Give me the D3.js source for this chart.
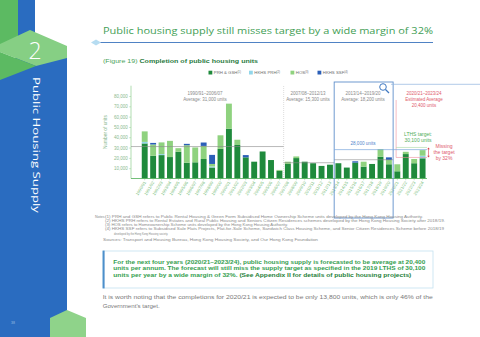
<!DOCTYPE html>
<html>
<head>
<meta charset="utf-8">
<script src="https://cdn.jsdelivr.net/npm/d3@7"></script>
<style>
  body { margin: 0; background: #fff; }
  svg { display: block; font-family: "Liberation Sans", Arial, sans-serif; }
</style>
</head>
<body>
<svg id="chart" width="480" height="337"></svg>
<script>
// completions per year, by programme
const years = ["1990/91","1991/92","1992/93","1993/94","1994/95","1995/96","1996/97","1997/98","1998/99","1999/00",
  "2000/01","2001/02","2002/03","2003/04","2004/05","2005/06","2006/07","2007/08","2008/09","2009/10",
  "2010/11","2011/12","2012/13","2013/14","2014/15","2015/16","2016/17","2017/18","2018/19","2019/20",
  "2020/21","2021/22","2022/23","2023/24"];
const prhGsh  = [34000,22000,22700,20800,25900,15300,15700,18900,10700,28700,48300,32500,20500,16300,26200,17900,7400,
  14100,19800,16300,14800,12200,13400,14800,10600,15400,11500,14100,21100,13800,7000,23700,14800,19600];
const hkhsPrh = [1500,0,1000,0,0,0,0,0,1000,0,0,0,0,0,0,0,0,
  0,0,0,0,0,0,0,0,0,0,0,0,0,0,0,0,2500];
const hos     = [10200,11000,11300,15700,3500,17000,14400,12700,2400,13200,24300,5100,0,0,0,0,900,
  2200,1600,0,0,0,0,0,0,0,4800,0,7400,4200,6800,2200,4100,5400];
const hkhsSsf = [0,1500,0,0,0,1300,0,3300,8800,0,0,0,2200,0,0,0,0,
  0,0,0,0,0,0,0,0,1300,0,0,0,2500,0,0,0,0];

const yTicks = [10000,20000,30000,40000,50000,60000,70000,80000];

const seriesKeys   = ["prh","hkhsPrh","hos","ssf"];
const seriesNames  = ["PRH & GSH","HKHS PRH","HOS","HKHS SSF"];
const seriesNotes  = ["(1)","(2)","(3)","(4)"];
const seriesColors = ["#1f8a3c","#92d6ea","#8fd27f","#2b5fb8"];

// period averages
const periodFirst = ["1990/91","2007/08","2013/14","2020/21"];
const periodLast  = ["2006/07","2012/13","2019/20","2023/24"];
const periodAvg   = [31000,15300,18200,20400];
const zoomTarget  = 28000;
const lthsTarget  = 30100;

const svg = d3.select("#chart");
const fmt = d3.format(",");

// ---- side band ----
const side = svg.append("g");
side.append("rect").attr("x",0).attr("y",58).attr("width",67).attr("height",279).attr("fill","#2a6cc0");
side.append("rect").attr("x",18).attr("y",0).attr("width",17).attr("height",60).attr("fill","#2a6cc0");
side.append("rect").attr("x",0).attr("y",0).attr("width",18).attr("height",44).attr("fill","#5cba62");
side.append("polygon").attr("points","0,44 30,30 67,46 67,58 36,66 0,52").attr("fill","#86cf84");
side.append("polygon").attr("points","0,52 36,66 0,80").attr("fill","#5cba62");
side.append("text").attr("x",35).attr("y",58.5).attr("text-anchor","middle")
  .attr("font-family","'Open Sans', sans-serif").attr("font-weight",300)
  .attr("font-size",23).attr("fill","#fff").text("2");
side.append("text").attr("transform","translate(33,77) rotate(90)")
  .attr("font-family","'Open Sans', sans-serif").attr("font-size",9.5)
  .attr("fill","#fff").attr("textLength",136).attr("lengthAdjust","spacingAndGlyphs")
  .text("Public Housing Supply");
side.append("polygon").attr("points","50,337 50,318 67,310 86,318 86,337").attr("fill","#8fd38a");
side.append("text").attr("x",11).attr("y",324).attr("font-size",3.5).attr("fill","#9dbbe0").text("38");

// ---- heading ----
svg.append("text").attr("x",103).attr("y",34)
  .attr("font-family","'Open Sans', sans-serif").attr("font-size",8.6).attr("fill","#3f9e55")
  .attr("textLength",330).attr("lengthAdjust","spacingAndGlyphs")
  .text("Public housing supply still misses target by a wide margin of 32%");
svg.append("line").attr("x1",95).attr("x2",433).attr("y1",42.5).attr("y2",42.5)
  .attr("stroke","#4f82c4").attr("stroke-width",1.2);
svg.append("polygon").attr("points","91,42.5 96,39.5 101,42.5 96,45.5").attr("fill","#b6dcf1");

const cap = svg.append("text").attr("x",103).attr("y",63).attr("font-size",5.6)
  .attr("textLength",155).attr("lengthAdjust","spacingAndGlyphs");
cap.append("tspan").attr("fill","#4aa35a").text("(Figure 19) ");
cap.append("tspan").attr("fill","#1f7a3c").attr("font-weight","bold").text("Completion of public housing units");

// ---- legend ----
const legendX = [208.5, 249, 290.5, 317.5];
seriesKeys.forEach((k, i) => {
  const g = svg.append("g").attr("transform", `translate(${legendX[i]},70.7)`);
  g.append("rect").attr("width",3.8).attr("height",3.8).attr("fill",seriesColors[i]);
  const t = g.append("text").attr("x",5.3).attr("y",3.5).attr("font-size",4.3).attr("fill","#6b6b6b");
  t.append("tspan").text(seriesNames[i]);
  t.append("tspan").attr("font-size",2.8).attr("dy",-1.4).text(seriesNotes[i]);
});

// ---- scales ----
const x = d3.scaleBand().domain(years).range([140.5, 426.8]).paddingInner(0.3).paddingOuter(0.15);
const y = d3.scaleLinear().domain([0, 90000]).range([178.5, 85.7]);
const gap = x.step() - x.bandwidth();
const leftEdge  = yr => x(yr) - gap / 2;
const rightEdge = yr => x(yr) + x.bandwidth() + gap / 2;

const rows = years.map((yr, i) => ({
  year: yr, prh: prhGsh[i], hkhsPrh: hkhsPrh[i], hos: hos[i], ssf: hkhsSsf[i]
}));
const stacked = d3.stack().keys(seriesKeys)(rows);

// y axis
const yAxis = svg.append("g").attr("transform","translate(131,0)")
  .call(d3.axisLeft(y).tickValues(yTicks).tickSize(1.8).tickPadding(1.5).tickFormat(fmt));
yAxis.select(".domain").remove();
yAxis.selectAll("line").attr("stroke","#8fcf8f").attr("stroke-width",0.5);
yAxis.selectAll("text").attr("font-size",4.5).attr("fill","#8bb88e").attr("font-family","'Liberation Sans', sans-serif");
svg.append("line").attr("x1",131).attr("x2",131).attr("y1",y(90000)).attr("y2",y(0))
  .attr("stroke","#8fcf8f").attr("stroke-width",0.7);
svg.append("text").attr("transform",`translate(107,${(y(0)+y(90000))/2}) rotate(-90)`)
  .attr("text-anchor","middle").attr("font-size",4.8).attr("fill","#8bb88e").text("Number of units");

// period separator
svg.append("line").attr("x1",rightEdge("2006/07")).attr("x2",rightEdge("2006/07"))
  .attr("y1",86).attr("y2",y(0)).attr("stroke","#bdbdbd").attr("stroke-width",0.5)
  .attr("stroke-dasharray","1,1");

// bars
svg.append("g").selectAll("g").data(stacked).join("g")
  .attr("fill", (d, i) => seriesColors[i])
  .selectAll("rect").data(d => d).join("rect")
  .attr("x", d => x(d.data.year))
  .attr("width", x.bandwidth())
  .attr("y", d => y(d[1]))
  .attr("height", d => y(d[0]) - y(d[1]));

// x axis
const xAxis = svg.append("g").attr("transform",`translate(0,${y(0)})`)
  .call(d3.axisBottom(x).tickSize(1.8).tickPadding(1));
xAxis.select(".domain").remove();
xAxis.selectAll("line").attr("stroke","#8fcf8f").attr("stroke-width",0.5);
xAxis.selectAll("text").attr("font-size",4.3).attr("fill","#7cc17e")
  .attr("text-anchor","end").attr("dy",0).attr("y",0)
  .attr("transform","translate(1.5,4) rotate(-58)");
svg.append("line").attr("x1",131).attr("x2",427).attr("y1",y(0)).attr("y2",y(0))
  .attr("stroke","#4fae57").attr("stroke-width",0.8);

// average lines and period labels
const periodColor = ["#8a8a8a","#8a8a8a","#8a8a8a","#e05a6c"];
periodFirst.forEach((first, i) => {
  const x0 = i === 0 ? 131 : leftEdge(first) + (i === 3 ? 3 : 0);
  const x1 = i === 3 ? 427 : rightEdge(periodLast[i]);
  svg.append("line").attr("x1",x0).attr("x2",x1).attr("y1",y(periodAvg[i])).attr("y2",y(periodAvg[i]))
    .attr("stroke", i === 3 ? "#ef8e9a" : "#8c8c8c").attr("stroke-width",0.6);
  const cx = [205, 308, 363, 424][i];
  const lines = i === 3
    ? [`${first}–${periodLast[i]}`, "Estimated Average", `${fmt(periodAvg[i])} units`]
    : [`${first}–${periodLast[i]}`, `Average: ${fmt(periodAvg[i])} units`];
  lines.forEach((s, j) => {
    svg.append("text").attr("x",cx).attr("y",95 + j * 6.2).attr("text-anchor","middle")
      .attr("font-size",4.5).attr("fill",periodColor[i]).text(s);
  });
});
// red leader down to the estimated average
const redX = leftEdge("2020/21") + 3;
svg.append("line").attr("x1",redX).attr("x2",redX).attr("y1",100).attr("y2",y(periodAvg[3]))
  .attr("stroke","#ef8e9a").attr("stroke-width",0.6);

// zoom box around 2013/14 – 2019/20
const bx0 = leftEdge("2013/14"), bx1 = rightEdge("2019/20");
svg.append("rect").attr("x",bx0).attr("y",82).attr("width",bx1 - bx0).attr("height",136)
  .attr("fill","none").attr("stroke","#5f8fcb").attr("stroke-width",0.9);
svg.append("line").attr("x1",391).attr("x2",480).attr("y1",84.3).attr("y2",84.3)
  .attr("stroke","#8fb3de").attr("stroke-width",0.7);
svg.append("circle").attr("cx",383).attr("cy",87).attr("r",3.3)
  .attr("fill","#fff").attr("stroke","#3f79c2").attr("stroke-width",1);
svg.append("line").attr("x1",385.5).attr("y1",89.5).attr("x2",389).attr("y2",93)
  .attr("stroke","#3f79c2").attr("stroke-width",1.2);

// 28,000 and LTHS target lines
svg.append("line").attr("x1",bx0).attr("x2",427).attr("y1",y(zoomTarget)).attr("y2",y(zoomTarget))
  .attr("stroke","#7aa6dc").attr("stroke-width",0.7);
svg.append("text").attr("x",363).attr("y",y(zoomTarget) - 4.5).attr("text-anchor","middle")
  .attr("font-size",4.6).attr("fill","#4f86cc").text(`${fmt(zoomTarget)} units`);
svg.append("line").attr("x1",redX).attr("x2",427).attr("y1",y(lthsTarget)).attr("y2",y(lthsTarget))
  .attr("stroke","#a9d8a6").attr("stroke-width",0.6);
["LTHS target:", `${fmt(lthsTarget)} units`].forEach((s, j) => {
  svg.append("text").attr("x",418).attr("y",135.5 + j * 6).attr("text-anchor","middle")
    .attr("font-size",5).attr("fill","#4fae57").text(s);
});
// gap arrow
const ax = 428.5;
svg.append("line").attr("x1",ax).attr("x2",ax).attr("y1",y(lthsTarget) + 1).attr("y2",y(periodAvg[3]) - 1)
  .attr("stroke","#d9414f").attr("stroke-width",0.6);
svg.append("polygon").attr("points",`${ax-1.3},${y(lthsTarget)+1.8} ${ax},${y(lthsTarget)} ${ax+1.3},${y(lthsTarget)+1.8}`).attr("fill","#d9414f");
svg.append("polygon").attr("points",`${ax-1.3},${y(periodAvg[3])-1.8} ${ax},${y(periodAvg[3])} ${ax+1.3},${y(periodAvg[3])-1.8}`).attr("fill","#d9414f");
["Missing","the target","by 32%"].forEach((s, j) => {
  svg.append("text").attr("x",444).attr("y",147.8 + j * 6.2).attr("text-anchor","middle")
    .attr("font-size",5).attr("fill","#e05a6c").text(s);
});

// ---- notes ----
const notes = [
  [95, 217.5, 0, "Notes:"],
  [105, 217.5, 318, "(1) PRH and GSH refers to Public Rental Housing & Green Form Subsidised Home Ownership Scheme units developed by the Hong Kong Housing Authority."],
  [105, 221.8, 340, "(2) HKHS PRH refers to Rental Estates and Rural Public Housing and Seniors Citizen Residences schemes developed by the Hong Kong Housing Society after 2018/19."],
  [105, 226.1, 183, "(3) HOS refers to Homeownership Scheme units developed by the Hong Kong Housing Authority."],
  [105, 230.4, 339, "(4) HKHS SSF refers to Subsidised Sale Flats Projects, Flat-for-Sale Scheme, Sandwich Class Housing Scheme, and Senior Citizen Residences Scheme before 2018/19"],
  [114, 234.7, 54, "developed by the Hong Kong Housing society."],
  [103, 240.5, 215, "Sources: Transport and Housing Bureau, Hong Kong Housing Society, and Our Hong Kong Foundation"]
];
notes.forEach(([nx, ny, len, s]) => {
  const t = svg.append("text").attr("x",nx).attr("y",ny).attr("font-size",3.7).attr("fill","#8a8a8a").text(s);
  if (len) t.attr("textLength",len).attr("lengthAdjust","spacingAndGlyphs");
});

// ---- callout ----
svg.append("rect").attr("x",103).attr("y",251).attr("width",330).attr("height",37)
  .attr("fill","#fff").attr("stroke","#c4e2f0").attr("stroke-width",0.8);
svg.append("rect").attr("x",102.6).attr("y",250.6).attr("width",2).attr("height",37.8).attr("fill","#4d8fcb");
const callout = [
  ["For the next four years (2020/21–2023/24), public housing supply is forecasted to be average at 20,400", 312],
  ["units per annum. The forecast will still miss the supply target as specified in the 2019 LTHS of 30,100", 312]
];
callout.forEach(([s, len], j) => {
  svg.append("text").attr("x",113.3).attr("y",263.5 + j * 6.6).attr("font-size",5.4)
    .attr("font-weight","bold").attr("fill","#35a04f")
    .attr("textLength",len).attr("lengthAdjust","spacingAndGlyphs").text(s);
});
const last = svg.append("text").attr("x",113.3).attr("y",276.7).attr("font-size",5.4)
  .attr("font-weight","bold").attr("textLength",298).attr("lengthAdjust","spacingAndGlyphs");
last.append("tspan").attr("fill","#35a04f").text("units per year by a wide margin of 32%. ");
last.append("tspan").attr("fill","#1f7f3a").text("(See Appendix II for details of public housing projects)");

svg.append("text").attr("x",102.7).attr("y",299.2).attr("font-size",5.3).attr("fill","#7a7a7a")
  .attr("textLength",330).attr("lengthAdjust","spacingAndGlyphs")
  .text("It is worth noting that the completions for 2020/21 is expected to be only 13,800 units, which is only 46% of the");
svg.append("text").attr("x",102.7).attr("y",307.6).attr("font-size",5.3).attr("fill","#7a7a7a")
  .attr("textLength",57).attr("lengthAdjust","spacingAndGlyphs")
  .text("Government's target.");
</script>
</body>
</html>
